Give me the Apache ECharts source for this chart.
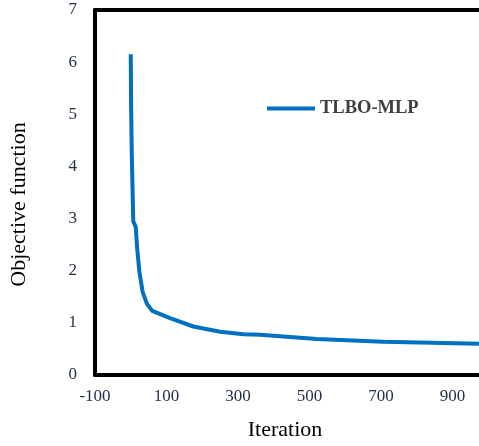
<!DOCTYPE html>
<html>
<head>
<meta charset="utf-8">
<script src="https://cdn.jsdelivr.net/npm/echarts@6/dist/echarts.min.js"></script>
<style>html,body{margin:0;padding:0;background:#fff;overflow:hidden}#c{width:479px;height:446px}</style>
</head>
<body>
<div id="c"></div>
<script>
const seriesName = 'TLBO-MLP';
const iterations = [0, 1, 3, 7, 14, 18, 24, 33, 45, 60, 110, 175, 250, 315, 362, 520, 706, 974];
const objective = [6.15, 5.16, 4.2, 2.95, 2.84, 2.42, 1.99, 1.60, 1.37, 1.23, 1.09, 0.93, 0.83, 0.78, 0.77, 0.69, 0.64, 0.60];
const xTicks = [-100, 100, 300, 500, 700, 900];
const yTicks = [0, 1, 2, 3, 4, 5, 6, 7];

const chart = echarts.init(document.getElementById('c'), null, {renderer: 'canvas'});
const serif = '"Liberation Serif", "DejaVu Serif", serif';
chart.setOption({
  animation: false,
  backgroundColor: '#fff',
  grid: {left: 95, top: 10, bottom: 69, right: 0},
  legend: {
    data: [seriesName], left: 262, top: 94, itemWidth: 48, itemHeight: 4, icon: 'rect', itemGap: 4,
    textStyle: {fontFamily: serif, fontWeight: 'bold', fontSize: 18.5, color: '#404040'}
  },
  xAxis: [{
    type: 'value', min: -100, max: 974, interval: 100,
    name: 'Iteration', nameLocation: 'middle', nameGap: 44,
    nameTextStyle: {fontFamily: serif, fontSize: 22, color: '#000', padding: [0, 4, 0, 0]},
    axisLine: {show: true, onZero: false, lineStyle: {color: '#000', width: 4}},
    axisTick: {show: false}, splitLine: {show: false},
    axisLabel: {
      fontFamily: serif, fontSize: 17, color: '#1f2d45', margin: 13, showMaxLabel: false,
      formatter: v => xTicks.indexOf(v) >= 0 ? String(v) : ''
    }
  }, {
    type: 'value', position: 'top', min: -100, max: 974, interval: 100,
    axisLine: {show: true, onZero: false, lineStyle: {color: '#000', width: 4}},
    axisTick: {show: false}, splitLine: {show: false}, axisLabel: {show: false}
  }],
  yAxis: {
    type: 'value', min: 0, max: 7, interval: 1,
    name: 'Objective function', nameLocation: 'middle', nameGap: 65,
    nameTextStyle: {fontFamily: serif, fontSize: 22, color: '#000', padding: [0, 24, 0, 0]},
    axisLine: {show: true, onZero: false, lineStyle: {color: '#000', width: 4}},
    axisTick: {show: false}, splitLine: {show: false},
    axisLabel: {
      fontFamily: serif, fontSize: 17, color: '#1f2d45', margin: 18,
      formatter: v => yTicks.indexOf(v) >= 0 ? String(v) : ''
    }
  },
  series: [{
    name: seriesName, type: 'line', showSymbol: false, symbol: 'none', xAxisIndex: 0,
    data: iterations.map((x, i) => [x, objective[i]]),
    lineStyle: {color: '#0070c0', width: 4}, itemStyle: {color: '#0070c0'}
  }]
});
</script>
</body>
</html>
